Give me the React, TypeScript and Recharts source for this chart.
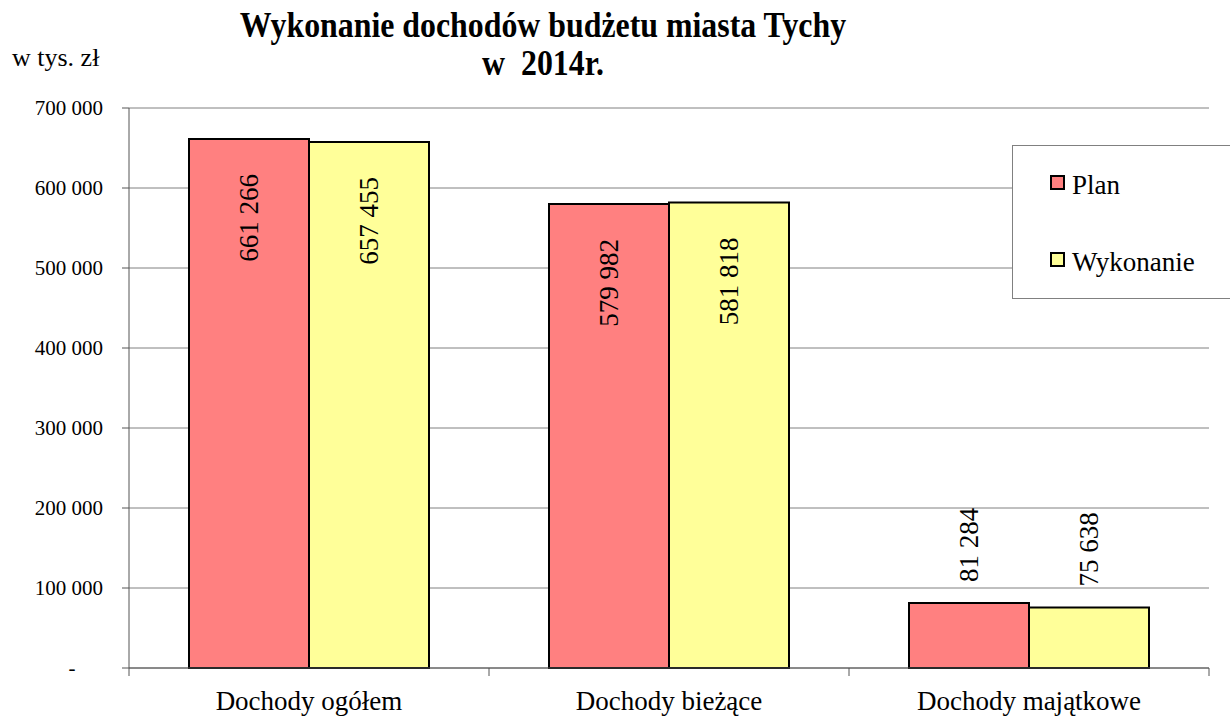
import React from "react";
import { BarChart, Bar, XAxis, YAxis, CartesianGrid, Legend, LabelList } from "recharts";

const categories = ["Dochody ogółem", "Dochody bieżące", "Dochody majątkowe"];
const planValues = [661266, 579982, 81284];
const wykonanieValues = [657455, 581818, 75638];
const yTicks = [0, 100000, 200000, 300000, 400000, 500000, 600000, 700000];
const seriesNames = ["Plan", "Wykonanie"];
const seriesColors = ["#FF8080", "#FFFF99"];
const titleLines = ["Wykonanie dochodów budżetu miasta Tychy", "w  2014r."];
const unitLabel = "w tys. zł";

const data = categories.map((c, i) => ({ name: c, Plan: planValues[i], Wykonanie: wykonanieValues[i] }));

const FONT = "Liberation Serif, DejaVu Serif, serif";
const ff = { fontFamily: FONT };
const W = 1230;
const H = 717;
const MARGIN = { top: 108, right: 21, bottom: 0, left: 0 };
const YAXIS_W = 129;
const XAXIS_H = 49;
const PLOT_W = W - MARGIN.right - YAXIS_W;
const BAND = PLOT_W / categories.length;

const fmt = (v: number) => String(v).replace(/\B(?=(\d{3})+(?!\d))/g, " ");

const YTick = (props: any) => {
  const { x, y, payload } = props;
  if (payload.value === 0) {
    return (
      <text x={72} y={y} dy={7} textAnchor="middle" style={ff} fontSize={21} fill="#000">-</text>
    );
  }
  return (
    <text x={x} y={y} dy={7} textAnchor="end" style={ff} fontSize={21} fill="#000">
      {fmt(payload.value)}
    </text>
  );
};

const XTick = (props: any) => {
  const { x, payload, index } = props;
  const axisY = H - XAXIS_H;
  return (
    <g>
      <line x1={x - BAND / 2} x2={x - BAND / 2} y1={axisY} y2={axisY + 8} stroke="#555" strokeWidth={1} />
      {index === categories.length - 1 && (
        <line x1={x + BAND / 2} x2={x + BAND / 2} y1={axisY} y2={axisY + 8} stroke="#555" strokeWidth={1} />
      )}
      <text x={x} y={710} textAnchor="middle" style={ff} fontSize={27} fill="#000">
        {payload.value}
      </text>
    </g>
  );
};

const makeLabel = () => (props: any) => {
  const { x, y, width, height, value } = props;
  const cx = x + width / 2;
  const inside = height > 200;
  const ty = inside ? y + 35 : y - 21;
  return (
    <text
      x={cx}
      y={ty}
      transform={`rotate(-90 ${cx} ${ty})`}
      textAnchor={inside ? "end" : "start"}
      dominantBaseline="central"
      style={ff}
      fontSize={27}
      fill="#000"
    >
      {fmt(value)}
    </text>
  );
};

const LegendBox = () => (
  <svg width={220} height={155} style={{ display: "block" }}>
    <rect x={0.5} y={0.5} width={230} height={153} fill="#fff" stroke="#808080" strokeWidth={1} />
    {seriesNames.map((n, i) => {
      const my = i === 0 ? 31 : 108;
      return (
        <g key={n}>
          <rect x={39} y={my} width={13} height={13} fill={seriesColors[i]} stroke="#000" strokeWidth={2} />
          <text x={60} y={my + 18} style={ff} fontSize={27} fill="#000">{n}</text>
        </g>
      );
    })}
  </svg>
);

const TITLE_X = 543;
const SX = 0.91;

export default function App() {
  return (
    <div style={{ position: "absolute", left: 0, top: 0, width: W, height: H, overflow: "hidden", background: "#fff", fontFamily: FONT }}>
      <BarChart
        width={W}
        height={H}
        data={data}
        margin={MARGIN}
        barCategoryGap={60}
        barGap={0}
      >
        <CartesianGrid horizontal vertical={false} stroke="#808080" strokeWidth={1} />
        <XAxis
          dataKey="name"
          height={XAXIS_H}
          axisLine={{ stroke: "#555", strokeWidth: 1 }}
          tickLine={false}
          tick={<XTick />}
          interval={0}
        />
        <YAxis
          width={YAXIS_W}
          domain={[0, 700000]}
          ticks={yTicks}
          interval={0}
          axisLine={{ stroke: "#555", strokeWidth: 1 }}
          tickLine={{ stroke: "#555", strokeWidth: 1 }}
          tickSize={7}
          tickMargin={19}
          tick={<YTick />}
        />
        <YAxis
          yAxisId="r"
          orientation="right"
          width={0}
          domain={[0, 700000]}
          tick={false}
          tickLine={false}
          axisLine={{ stroke: "#808080", strokeWidth: 1 }}
        />
        <Legend
          layout="horizontal"
          verticalAlign="middle"
          align="center"
          content={<LegendBox />}
          wrapperStyle={{ left: 1012, top: 145, width: 220, height: 155 }}
        />
        <Bar dataKey="Plan" fill={seriesColors[0]} stroke="#000" strokeWidth={2} isAnimationActive={false}>
          <LabelList dataKey="Plan" content={makeLabel()} />
        </Bar>
        <Bar dataKey="Wykonanie" fill={seriesColors[1]} stroke="#000" strokeWidth={2} isAnimationActive={false}>
          <LabelList dataKey="Wykonanie" content={makeLabel()} />
        </Bar>
      </BarChart>
      <svg width={W} height={110} style={{ position: "absolute", left: 0, top: 0, pointerEvents: "none" }}>
        <g transform={`translate(${TITLE_X} 0) scale(${SX} 1)`}>
          <text x={0} y={37} textAnchor="middle" style={ff} fontSize={35} fontWeight="bold" fill="#000">
            {titleLines[0]}
          </text>
          <text x={0} y={75} textAnchor="middle" style={{ ...ff, whiteSpace: "pre" }} fontSize={35} fontWeight="bold" fill="#000">
            {titleLines[1]}
          </text>
        </g>
        <text x={12} y={66} style={ff} fontSize={26} fill="#000">
          {unitLabel}
        </text>
      </svg>
    </div>
  );
}
